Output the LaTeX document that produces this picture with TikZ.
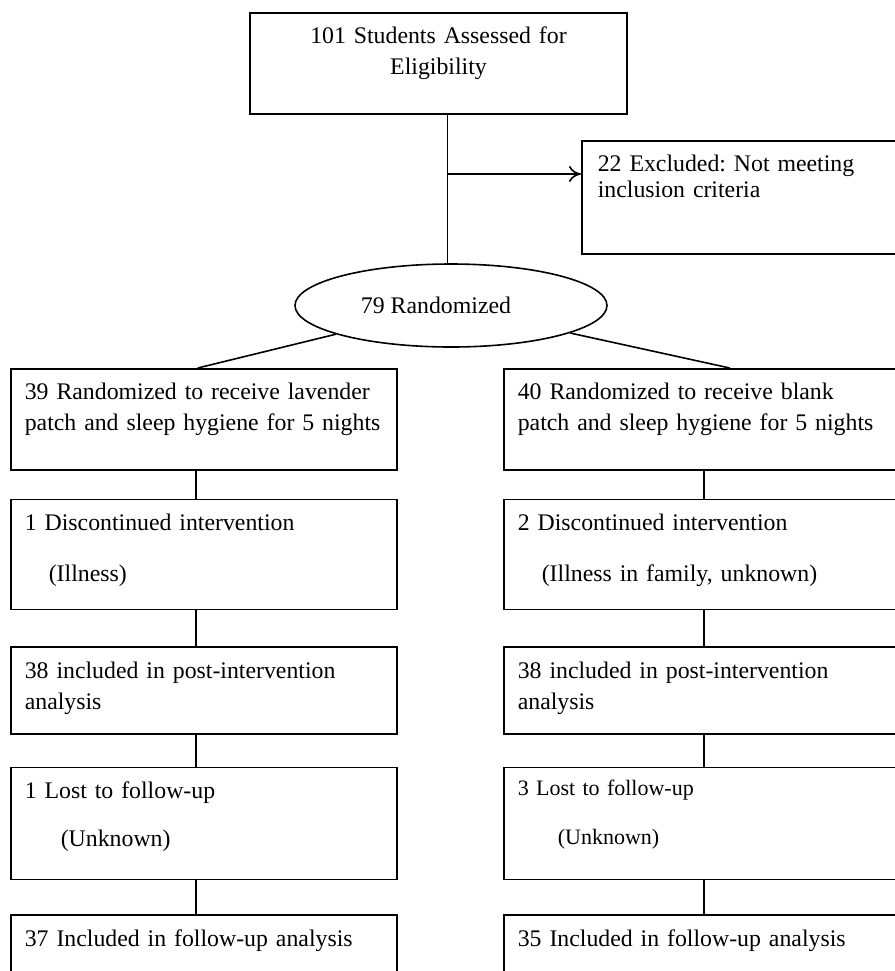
\documentclass[tikz,border=0pt]{standalone}
\usepackage{fontspec}
\setmainfont{Liberation Serif}
\usetikzlibrary{positioning, arrows.meta, shapes.geometric}
\frenchspacing

\begin{document}
\begin{tikzpicture}[x=0.5pt, y=-0.5pt,
    every node/.style={font=\fontsize{11.9}{15.5}\selectfont},
    flowbox/.style={rectangle, draw, line width=0.8pt, align=left, inner xsep=7pt, inner ysep=0pt, text height=15.5pt},
    leftbox/.style={flowbox, text width=179pt},
    rightbox/.style={flowbox, text width=187pt},
    randoval/.style={ellipse, draw, line width=0.8pt, minimum width=156pt, minimum height=41.5pt, inner sep=0pt},
    conn/.style={line width=0.8pt},
    arrow/.style={-{To[length=6pt, width=8pt]}, line width=0.8pt}]

  \useasboundingbox (0,0) rectangle (895,971);
  \clip (0,0) rectangle (895,971);

  \node[flowbox, align=center, text width=174.5pt, text depth=35pt, anchor=north] (assess) at (438.5,12) {101 Students Assessed for\\Eligibility};
  \node[flowbox, inner xsep=8pt, text width=170pt, text depth=41pt, font=\fontsize{11.9}{13}\selectfont, anchor=north west] (excl) at (581,140) {22 Excluded: Not meeting\\inclusion criteria};
  \node[randoval] (rand) at (451,305.5) {79 Randomized\hspace*{15pt}};

  \node[leftbox, text depth=35pt, anchor=north west] (lav) at (10,368) {39 Randomized to receive lavender\\patch and sleep hygiene for 5 nights};
  \node[rightbox, text depth=35pt, anchor=north west] (blank) at (503,368) {40 Randomized to receive blank\\patch and sleep hygiene for 5 nights};

  \node[leftbox, text depth=39.5pt, below=14pt of lav] (disc1) {1 Discontinued intervention\\[10pt]\hspace*{12pt}(Illness)};
  \node[rightbox, text depth=39.5pt, below=14pt of blank] (disc2) {2 Discontinued intervention\\[10pt]\hspace*{12pt}(Illness in family, unknown)};

  \node[leftbox, text depth=28pt, below=18pt of disc1] (post1) {38 included in post-intervention\\analysis};
  \node[rightbox, text depth=28pt, below=18pt of disc2] (post2) {38 included in post-intervention\\analysis};

  \node[leftbox, text depth=40.5pt, below=16pt of post1] (lost1) {1 Lost to follow-up\\[8.5pt]\hspace*{18pt}(Unknown)};
  \node[rightbox, text height=14pt, text depth=42pt, font=\fontsize{11}{14.5}\selectfont, below=16pt of post2] (lost2) {3 Lost to follow-up\\[10pt]\hspace*{20pt}(Unknown)};

  \node[leftbox, text depth=35pt, below=17pt of lost1] (fu1) {37 Included in follow-up analysis};
  \node[rightbox, text depth=35pt, below=17pt of lost2] (fu2) {35 Included in follow-up analysis};

  \coordinate (split) at (447.5,174);
  \coordinate (colL) at (196,0);
  \coordinate (colR) at (704,0);

  \draw[conn] (assess.south -| split) -- (rand.north -| split);
  \draw[arrow] (split) -- (split -| excl.west);
  \draw[conn] (rand.194) -- ([xshift=-3pt]lav.north);
  \draw[conn] (rand.-13) -- ([xshift=12.5pt]blank.north);

  \draw[conn] (lav.south -| colL) -- (disc1.north -| colL);
  \draw[conn] (disc1.south -| colL) -- (post1.north -| colL);
  \draw[conn] (post1.south -| colL) -- (lost1.north -| colL);
  \draw[conn] (lost1.south -| colL) -- (fu1.north -| colL);
  \draw[conn] (blank.south -| colR) -- (disc2.north -| colR);
  \draw[conn] (disc2.south -| colR) -- (post2.north -| colR);
  \draw[conn] (post2.south -| colR) -- (lost2.north -| colR);
  \draw[conn] (lost2.south -| colR) -- (fu2.north -| colR);
\end{tikzpicture}
\end{document}
